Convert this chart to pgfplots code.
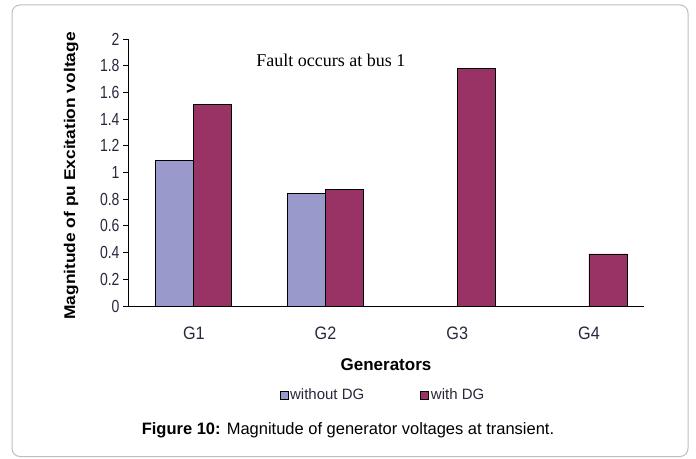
\documentclass[border=0pt]{standalone}
\usepackage{pgfplots}
\pgfplotsset{compat=1.18}
\usepackage{fontspec}
\setmainfont{Liberation Sans}
\newfontfamily\timesfont{Liberation Serif}
\definecolor{noDG}{RGB}{153,153,204}
\definecolor{withDG}{RGB}{153,51,102}
\definecolor{framegray}{RGB}{190,190,190}
\definecolor{ticktext}{RGB}{40,40,60}
\newcommand{\tl}[1]{\fontsize{18}{20}\selectfont\scalebox{0.9}[1]{#1}}
\begin{document}
\begin{tikzpicture}[x=1pt,y=1pt]
\path (0,0) rectangle (696,458);
\draw[framegray, line width=1pt, rounded corners=8pt] (12,1.5) rectangle (688,453);
\begin{axis}[
  at={(128pt,152pt)}, anchor=south west,
  scale only axis, width=516pt, height=267pt,
  xmin=-0.5, xmax=3.418, ymin=0, ymax=2,
  axis x line*=bottom, axis y line*=left,
  axis line style={black, line width=0.8pt},
  ytick={0,0.2,...,2.01},
  /pgf/number format/assume math mode=true,
  yticklabel={\fontsize{17.5}{19}\selectfont\scalebox{0.8}[1]{\pgfmathprintnumber[fixed,precision=1]{\tick}}},
  yticklabel style={text=ticktext},
  tick align=outside, tick style={black, line width=0.8pt},
  major tick length=5pt,
  xtick={0,1,2,3},
  xticklabels={\tl{G1},\tl{G2},\tl{G3},\tl{G4}},
  xtick style={draw=none},
  extra x ticks={0.5,1.5,2.5}, extra x tick labels={},
  extra x tick style={tick style={black, line width=0.8pt, draw=black}, major tick length=5pt},
  xticklabel style={yshift=-12pt, text=ticktext},
  ybar=0pt, bar width=38pt,
  xlabel={Generators},
  xlabel style={font=\bfseries\fontsize{17}{19}\selectfont, at={(axis description cs:0.5,-0.221)}, anchor=center},
  ylabel={\scalebox{1.12}[1]{Magnitude of pu Excitation voltage}},
  ylabel style={font=\bfseries\fontsize{15.5}{17}\selectfont, at={(axis description cs:-0.11,0.487)}, anchor=center, rotate=0},
  legend style={at={(axis description cs:0.494,-0.333)}, anchor=center, draw=none, fill=none,
    legend columns=2, font=\fontsize{15}{17}\selectfont, text=ticktext,
    /tikz/every even column/.append style={column sep=54pt}},
  legend image code/.code={\draw[#1, draw=black, line width=0.6pt] (0pt,-4pt) rectangle (8pt,4pt);},
]
\addplot[fill=noDG, draw=black, line width=0.8pt] coordinates {(0,1.09) (1,0.84)};
\addplot[fill=withDG, draw=black, line width=0.8pt] coordinates {(0,1.51) (1,0.87) (2,1.78) (3,0.39)};
\legend{without DG, with DG}
\node[font=\timesfont\fontsize{18}{20}\selectfont, anchor=center] at (rel axis cs:0.393,0.921) {Fault occurs at bus 1};
\end{axis}
\node[font=\fontsize{16.5}{18}\selectfont, anchor=center] at (348,28) {\textbf{Figure 10:} Magnitude of generator voltages at transient.};
\end{tikzpicture}
\end{document}
